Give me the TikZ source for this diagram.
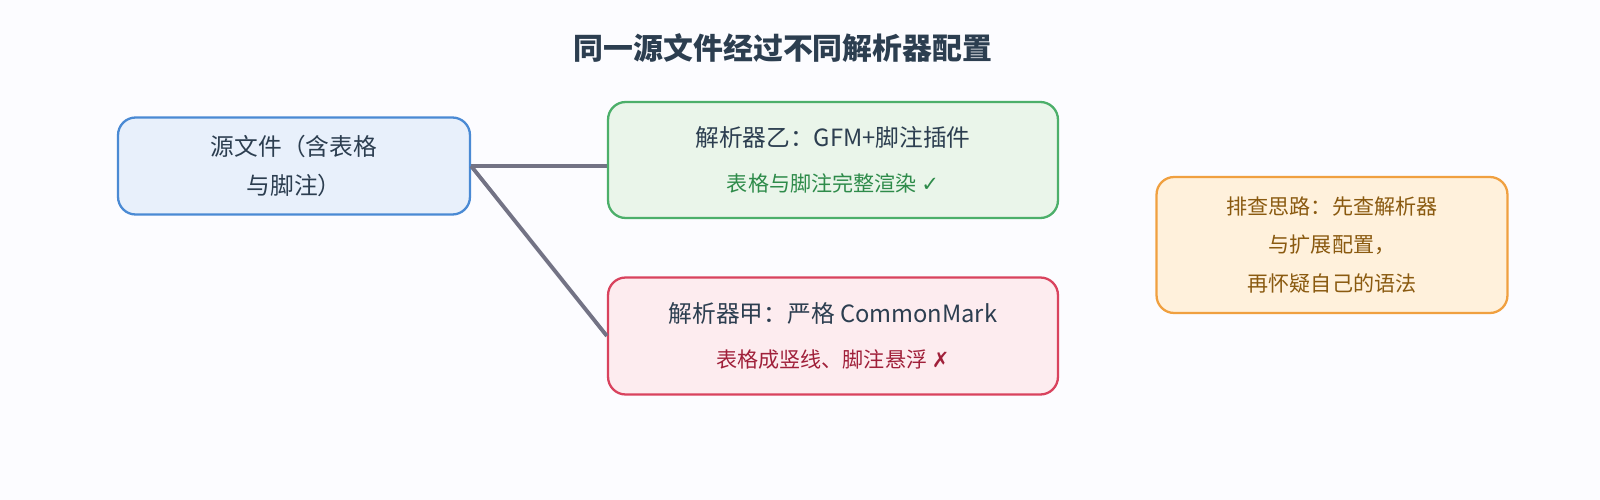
\documentclass[tikz,border=0pt]{standalone}
\usepackage{fontspec}
\setmainfont{Noto Sans CJK SC}
\newfontfamily\symfont{DejaVu Sans}
\definecolor{bgc}{HTML}{FCFCFF}
\definecolor{titlec}{HTML}{2C3E50}
\definecolor{srcfill}{HTML}{E8F0FB}
\definecolor{srcline}{HTML}{4A8AD4}
\definecolor{okfill}{HTML}{EAF5EA}
\definecolor{okline}{HTML}{4CAF6A}
\definecolor{oktext}{HTML}{2E8B4A}
\definecolor{badfill}{HTML}{FDECEF}
\definecolor{badline}{HTML}{D9435E}
\definecolor{badtext}{HTML}{A0203A}
\definecolor{tipfill}{HTML}{FFF1DC}
\definecolor{tipline}{HTML}{F0A040}
\definecolor{tiptext}{HTML}{8A5A10}
\definecolor{linkc}{HTML}{737385}
\begin{document}
\begin{tikzpicture}[x=0.02cm,y=-0.02cm,
  box/.style={draw,rounded corners=10pt,line width=1.3pt,align=center,inner sep=0pt,
    font=\fontsize{13.5pt}{22pt}\selectfont,text=titlec},
  link/.style={draw=linkc,line width=2.2pt}]
\fill[bgc] (0,0) rectangle (1600,500);
\node[font=\bfseries\fontsize{17pt}{20pt}\selectfont,text=titlec] (title) at (783,48) {同一源文件经过不同解析器配置};
\node[box,fill=srcfill,draw=srcline,minimum width=7.04cm,minimum height=1.94cm] (src) at (294,166) {源文件（含表格\\与脚注）};
\node[box,fill=okfill,draw=okline,minimum width=9cm,minimum height=2.32cm,font=\fontsize{13.5pt}{26pt}\selectfont] (parserB) at (833,160)
  {解析器乙：GFM+脚注插件\\{\color{oktext}\fontsize{12pt}{14pt}\selectfont 表格与脚注完整渲染 {\symfont ✓}}};
\node[box,fill=badfill,draw=badline,minimum width=9cm,minimum height=2.34cm,font=\fontsize{13.5pt}{26pt}\selectfont] (parserA) at (833,336)
  {解析器甲：严格 CommonMark\\{\color{badtext}\fontsize{12pt}{14pt}\selectfont 表格成竖线、脚注悬浮 {\symfont ✗}}};
\node[box,fill=tipfill,draw=tipline,minimum width=7.02cm,minimum height=2.72cm,text=tiptext,font=\fontsize{12pt}{22pt}\selectfont] (tip) at (1332,245)
  {排查思路：先查解析器\\与扩展配置，\\再怀疑自己的语法};
\draw[link] (src.east) -- (src.east -| parserB.west);
\draw[link] (src.east) -- (parserA.west);
\end{tikzpicture}
\end{document}
